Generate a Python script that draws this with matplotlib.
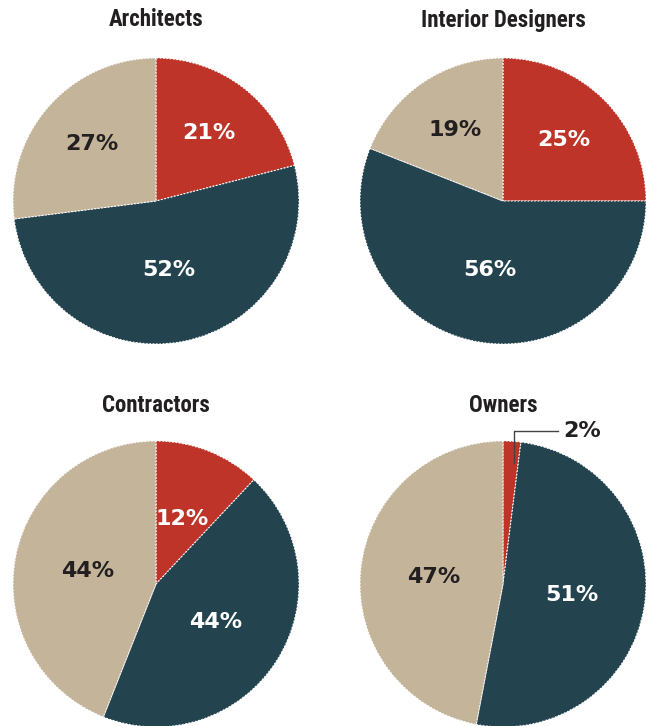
import numpy as np
import matplotlib
matplotlib.use('Agg')
import matplotlib.pyplot as plt
from matplotlib import font_manager

# data
titles = ["Architects", "Interior Designers", "Contractors", "Owners"]
shares = [[21, 52, 27],
          [25, 56, 19],
          [12, 44, 44],
          [2, 51, 47]]
colors = ['#BE3428', '#23434F', '#C4B49A']
label_colors = ['white', 'white', '#231F20']

# pixel layout: center x, center y, radius
W, H = 646, 726
centers = [(156, 201), (503, 201), (156, 584), (503, 584)]
R = 143
title_y = [20, 20, 406, 406]

# look for a condensed bold face for the titles
names = sorted({f.name for f in font_manager.fontManager.ttflist})
title_family = ['DejaVu Sans']
for cand in ['Liberation Sans Narrow', 'Roboto Condensed', 'Open Sans Condensed',
             'Noto Sans Condensed', 'DejaVu Sans Condensed']:
    if cand in names:
        title_family = [cand, 'DejaVu Sans']
        break

fig = plt.figure(figsize=(W / 100, H / 100), dpi=100)

for k, (cx, cy) in enumerate(centers):
    ax = fig.add_axes([(cx - R) / W, (H - cy - R) / H, 2 * R / W, 2 * R / H])
    vals = shares[k]
    wedges, texts, autotexts = ax.pie(
        vals, colors=colors, startangle=90, counterclock=False,
        autopct=lambda p: f'{p:.0f}%' if p >= 5 else '',
        pctdistance=0.55,
        wedgeprops=dict(edgecolor='white', linewidth=0.8, linestyle=(0, (1.5, 1.5))))
    for t, c, v in zip(autotexts, label_colors, vals):
        t.set_color(c)
        t.set_fontsize(16)
        t.set_fontweight('bold')
        # mid-size slices sit a bit further out, big ones closer in
        d = 0.6 if 15 <= v < 30 else 0.49
        x, y = t.get_position()
        t.set_position((x * d / 0.55, y * d / 0.55))
    ax.set_xlim(-1, 1)
    ax.set_ylim(-1, 1)
    ax.set_aspect('equal')
    ax.axis('off')

    # small slice label outside with leader line
    for w, v in zip(wedges, vals):
        if v < 5:
            lo, hi = sorted([w.theta1, w.theta2])
            ang = np.deg2rad(lo + 0.3 * (hi - lo))
            x0, y0 = 0.85 * np.cos(ang), 0.85 * np.sin(ang)
            ax.plot([x0, x0, 0.385], [y0, 1.07, 1.07], color='#444444', lw=1,
                    clip_on=False)
            ax.text(0.42, 1.07, f'{v}%', fontsize=16, fontweight='bold',
                    color='#231F20', va='center', ha='left')

    fig.text(cx / W, 1 - title_y[k] / H, titles[k], ha='center', va='center',
             fontsize=16.5, fontweight='bold', fontstretch='condensed',
             color='#231F20', family=title_family)

fig.savefig('out.png', dpi=100)
